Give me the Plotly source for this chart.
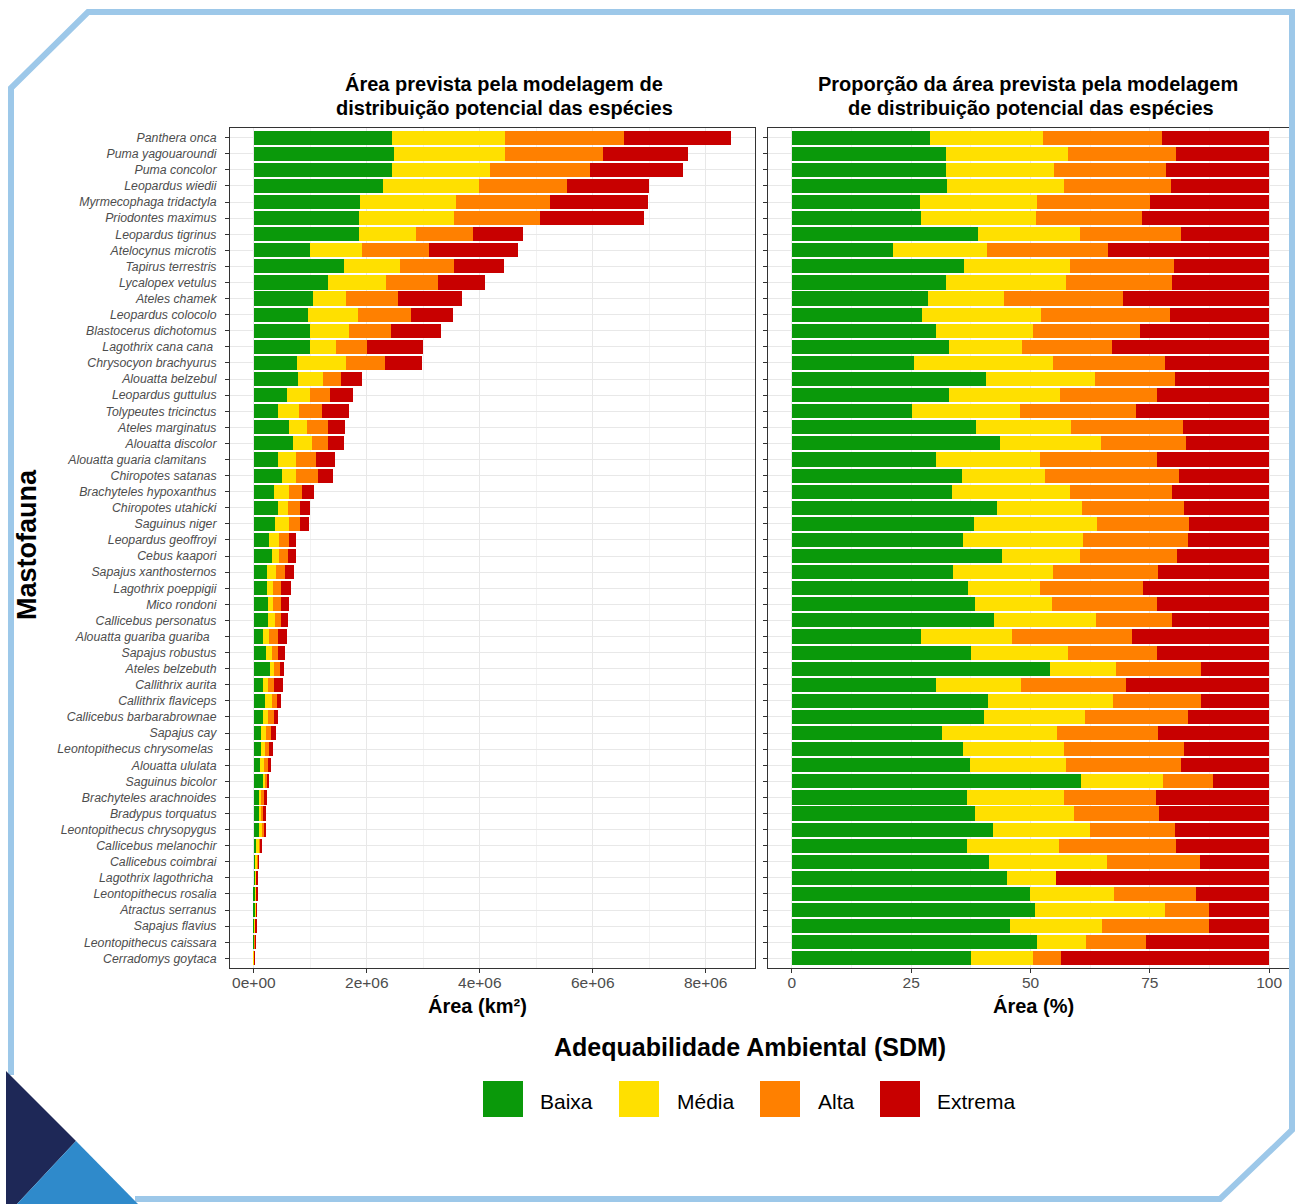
import plotly.graph_objects as go

W, H = 1298, 1204

# ---------------------------------------------------------------- data
species = [
    "Panthera onca", "Puma yagouaroundi", "Puma concolor", "Leopardus wiedii",
    "Myrmecophaga tridactyla", "Priodontes maximus", "Leopardus tigrinus",
    "Atelocynus microtis", "Tapirus terrestris", "Lycalopex vetulus",
    "Ateles chamek", "Leopardus colocolo", "Blastocerus dichotomus",
    "Lagothrix cana cana", "Chrysocyon brachyurus", "Alouatta belzebul",
    "Leopardus guttulus", "Tolypeutes tricinctus", "Ateles marginatus",
    "Alouatta discolor", "Alouatta guaria clamitans", "Chiropotes satanas",
    "Brachyteles hypoxanthus", "Chiropotes utahicki", "Saguinus niger",
    "Leopardus geoffroyi", "Cebus kaapori", "Sapajus xanthosternos",
    "Lagothrix poeppigii", "Mico rondoni", "Callicebus personatus",
    "Alouatta guariba guariba", "Sapajus robustus", "Ateles belzebuth",
    "Callithrix aurita", "Callithrix flaviceps", "Callicebus barbarabrownae",
    "Sapajus cay", "Leontopithecus chrysomelas", "Alouatta ululata",
    "Saguinus bicolor", "Brachyteles arachnoides", "Bradypus torquatus",
    "Leontopithecus chrysopygus", "Callicebus melanochir", "Callicebus coimbrai",
    "Lagothrix lagothricha", "Leontopithecus rosalia", "Atractus serranus",
    "Sapajus flavius", "Leontopithecus caissara", "Cerradomys goytaca",
]

# total predicted area per species (million km²)
total_area_mkm2 = [
    8.45, 7.68, 7.60, 6.99, 6.98, 6.91, 4.77, 4.68, 4.43, 4.09,
    3.69, 3.52, 3.32, 3.00, 2.97, 1.92, 1.76, 1.68, 1.61, 1.59,
    1.43, 1.40, 1.06, 0.99, 0.97, 0.74, 0.74, 0.71, 0.65, 0.63,
    0.60, 0.59, 0.56, 0.53, 0.52, 0.48, 0.42, 0.39, 0.33, 0.30,
    0.27, 0.23, 0.22, 0.22, 0.15, 0.09, 0.08, 0.06, 0.05, 0.04,
    0.03, 0.005,
]

# share of the predicted area in each suitability class (%)
pct_baixa = [
    28.9, 32.2, 32.2, 32.6, 26.8, 27.0, 38.9, 21.2, 36.0, 32.2,
    28.6, 27.2, 30.1, 32.9, 25.6, 40.6, 33.0, 25.1, 38.6, 43.7,
    30.1, 35.7, 33.6, 42.9, 38.1, 35.8, 44.0, 33.8, 37.0, 38.4,
    42.3, 27.1, 37.5, 54.1, 30.3, 41.0, 40.3, 31.4, 35.9, 37.3,
    60.6, 36.6, 38.4, 42.1, 36.6, 41.2, 45.0, 49.9, 50.9, 45.7,
    51.4, 37.5,
]
pct_media = [
    23.8, 25.6, 22.8, 24.4, 24.5, 24.2, 21.4, 19.6, 22.3, 25.2,
    15.8, 25.1, 20.4, 15.4, 29.2, 22.9, 23.2, 22.6, 19.8, 21.0,
    21.8, 17.3, 24.7, 17.8, 25.8, 25.1, 16.4, 21.0, 15.0, 16.0,
    21.4, 19.0, 20.3, 13.8, 17.8, 26.2, 21.1, 24.1, 21.2, 20.1,
    17.2, 20.4, 20.8, 20.4, 19.4, 24.8, 10.3, 17.6, 27.3, 19.2,
    10.2, 13.1,
]
pct_alta = [
    24.9, 22.6, 23.4, 22.4, 23.8, 22.1, 21.2, 25.5, 21.8, 22.2,
    24.9, 26.9, 22.5, 18.7, 23.3, 16.7, 20.4, 24.4, 23.5, 17.9,
    24.6, 28.1, 21.4, 21.5, 19.4, 22.0, 20.2, 22.0, 21.5, 22.2,
    16.0, 25.1, 18.8, 17.8, 21.9, 18.5, 21.5, 21.2, 25.1, 24.1,
    10.4, 19.3, 17.8, 17.8, 24.4, 19.5, 0.0, 17.1, 9.2, 22.4,
    12.6, 5.8,
]
pct_extrema = [
    22.4, 19.6, 21.6, 20.6, 24.9, 26.7, 18.5, 33.7, 19.9, 20.4,
    30.7, 20.8, 27.0, 33.0, 21.9, 19.8, 23.4, 27.9, 18.1, 17.4,
    23.5, 18.9, 20.3, 17.8, 16.7, 17.1, 19.4, 23.2, 26.5, 23.4,
    20.3, 28.8, 23.4, 14.3, 30.0, 14.3, 17.1, 23.3, 17.8, 18.5,
    11.8, 23.7, 23.0, 19.7, 19.6, 14.5, 44.7, 15.4, 12.6, 12.7,
    25.8, 43.6,
]

classes = ["Baixa", "Média", "Alta", "Extrema"]
class_colors = ["#0A990A", "#FFE000", "#FF8000", "#C80000"]
class_pcts = [pct_baixa, pct_media, pct_alta, pct_extrema]

area_tick_vals = [0, 2e6, 4e6, 6e6, 8e6]
area_tick_text = ["0e+00", "2e+06", "4e+06", "6e+06", "8e+06"]
pct_tick_vals = [0, 25, 50, 75, 100]
pct_tick_text = ["0", "25", "50", "75", "100"]

# a few labels carry trailing blanks in the source table
trailing_blanks = {
    "Lagothrix cana cana": 1,
    "Alouatta guaria clamitans": 3,
    "Alouatta guariba guariba": 2,
    "Leontopithecus chrysomelas": 1,
    "Lagothrix lagothricha": 1,
}

# ---------------------------------------------------------------- helpers
FONT = "Liberation Sans, Arial, Helvetica, sans-serif"


def px(x):
    return x / W


def py(y):
    return 1 - y / H


def path(points, close=False):
    s = "M " + " L ".join(f"{px(x):.5f},{py(y):.5f}" for x, y in points)
    return s + (" Z" if close else "")


total_km2 = [t * 1e6 for t in total_area_mkm2]

fig = go.Figure()

for name, color, pcts in zip(classes, class_colors, class_pcts):
    area = [t * p / 100 for t, p in zip(total_km2, pcts)]
    fig.add_trace(go.Bar(
        x=area, y=species, orientation="h", name=name,
        marker=dict(color=color, line=dict(width=0)), width=0.88,
        xaxis="x", yaxis="y", showlegend=False,
    ))
    fig.add_trace(go.Bar(
        x=pcts, y=species, orientation="h", name=name,
        marker=dict(color=color, line=dict(width=0)), width=0.88,
        xaxis="x2", yaxis="y2", showlegend=False,
    ))

order = species[::-1]
ticktext = [s + "\u00a0" * trailing_blanks.get(s, 0) for s in order]

xmax = max(total_km2)
pad = 0.05 * xmax

grid_major = "#E8E8E8"
grid_minor = "#F2F2F2"
axis_line = "#333333"
tick_col = "#4D4D4D"

y_dom = [py(968), py(128)]

common_y = dict(
    type="category", categoryorder="array", categoryarray=order,
    range=[-0.6, len(species) - 0.4], domain=y_dom,
    showgrid=True, gridcolor=grid_major, gridwidth=1,
    showline=True, mirror=True, linecolor=axis_line, linewidth=1,
    ticks="outside", ticklen=4, tickcolor=axis_line, zeroline=False,
)

fig.update_layout(
    width=W, height=H, autosize=False,
    margin=dict(l=0, r=0, t=0, b=0),
    paper_bgcolor="white", plot_bgcolor="white",
    barmode="stack", bargap=0,
    font=dict(family=FONT, color="black"),
    xaxis=dict(
        domain=[px(230), px(755)], anchor="y",
        range=[-pad, xmax + pad],
        tickmode="array", tickvals=area_tick_vals, ticktext=area_tick_text,
        tickfont=dict(size=15.5, color=tick_col),
        showgrid=True, gridcolor=grid_major, gridwidth=1,
        minor=dict(tickmode="linear", tick0=0, dtick=1e6, showgrid=True,
                   gridcolor=grid_minor, gridwidth=1, ticks=""),
        showline=True, mirror=True, linecolor=axis_line, linewidth=1,
        ticks="outside", ticklen=4, tickcolor=axis_line, zeroline=False,
        ticklabelstandoff=-4,
    ),
    xaxis2=dict(
        domain=[px(768), px(1293)], anchor="y2",
        range=[-5, 105],
        tickmode="array", tickvals=pct_tick_vals, ticktext=pct_tick_text,
        tickfont=dict(size=15.5, color=tick_col),
        showgrid=True, gridcolor=grid_major, gridwidth=1,
        minor=dict(tickmode="linear", tick0=0, dtick=12.5, showgrid=True,
                   gridcolor=grid_minor, gridwidth=1, ticks=""),
        showline=True, mirror=True, linecolor=axis_line, linewidth=1,
        ticks="outside", ticklen=4, tickcolor=axis_line, zeroline=False,
        ticklabelstandoff=-4,
    ),
    yaxis=dict(
        anchor="x", **common_y,
        tickmode="array", tickvals=order, ticktext=ticktext,
        tickfont=dict(size=12.3, color=tick_col, style="italic"),
        ticklabelstandoff=6,
    ),
    yaxis2=dict(anchor="x2", showticklabels=False, **common_y),
)

# ---------------------------------------------------------------- titles
ann = []


def text(x, y, s, size, bold=True, anchor="center", angle=0):
    ann.append(dict(
        x=px(x), y=py(y), xref="paper", yref="paper", showarrow=False,
        text=f"<b>{s}</b>" if bold else s, textangle=angle,
        xanchor=anchor, yanchor="middle",
        font=dict(size=size, color="black", family=FONT),
    ))


text(504, 83.5, "Área prevista pela modelagem de", 20)
text(504, 107.5, "distribuição potencial das espécies", 20)
text(1028, 83.5, "Proporção da área prevista pela modelagem", 20)
text(1031, 107.5, "de distribuição potencial das espécies", 20)
text(27, 545, "Mastofauna", 27, angle=-90)
text(477, 1006, "Área (km²)", 20)
text(1033, 1006, "Área (%)", 20)
text(750, 1047, "Adequabilidade Ambiental (SDM)", 25)

# ---------------------------------------------------------------- legend
shapes = []
key_x = [483, 619, 760, 880]
label_x = [538, 675, 816, 935]
for name, color, kx, lx in zip(classes, class_colors, key_x, label_x):
    shapes.append(dict(
        type="rect", xref="paper", yref="paper",
        x0=px(kx), x1=px(kx + 40), y0=py(1117), y1=py(1081),
        fillcolor=color, line=dict(width=0),
    ))
    text(lx, 1101, name, 21, bold=False, anchor="left")

# ---------------------------------------------------------------- frame
frame_blue = "#9DC8E9"
shapes.append(dict(
    type="path", xref="paper", yref="paper", layer="above",
    path=path([(11, 1075), (11, 88), (88, 12), (1292, 12), (1292, 1130),
               (1220, 1199), (135, 1199)]),
    line=dict(color=frame_blue, width=6), fillcolor="rgba(0,0,0,0)",
))
shapes.append(dict(
    type="path", xref="paper", yref="paper", layer="above",
    path=path([(6, 1071), (76, 1141), (17, 1204), (6, 1204)], close=True),
    fillcolor="#1E2857", line=dict(width=0),
))
shapes.append(dict(
    type="path", xref="paper", yref="paper", layer="above",
    path=path([(76, 1141), (138, 1204), (17, 1204)], close=True),
    fillcolor="#2F8ACB", line=dict(width=0),
))

fig.update_layout(annotations=ann, shapes=shapes)

fig.write_html("out.html")
